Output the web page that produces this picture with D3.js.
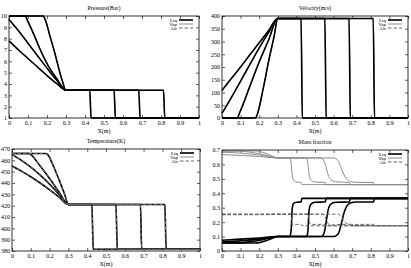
<!DOCTYPE html>
<meta charset="utf-8">
<style>
body{margin:0;background:#fff;}
text{font-family:"Liberation Serif","DejaVu Serif",serif;font-size:6px;fill:#000;}
.frame{fill:none;stroke:#000;stroke-width:0.8px;}
.tick line{stroke:#000;stroke-width:0.6px;}
.liq{fill:none;stroke:#000;stroke-width:1.6px;}
.vap{fill:none;stroke:#8c8c8c;stroke-width:1px;}
.air{fill:none;stroke:#666;stroke-width:1px;stroke-dasharray:3.5,2;}
</style>
<body>
<script src="https://cdnjs.cloudflare.com/ajax/libs/d3/7.8.5/d3.min.js"></script>
<script>
// four snapshots in time, [x, value]; phases share p, u, T
var pressure = [
  [[0,10],[0.18,10],[0.19,9.7],[0.216,8.2],[0.24,6.8],[0.26,5.5],[0.28,4.3],[0.3,3.45],[0.425,3.45],[0.432,1],[1,1]],
  [[0,10],[0.085,10],[0.1,9.5],[0.13,8.4],[0.16,7.2],[0.2,5.8],[0.25,4.5],[0.3,3.45],[0.553,3.45],[0.56,1],[1,1]],
  [[0,9.7],[0.05,8.7],[0.1,7.6],[0.15,6.5],[0.2,5.4],[0.25,4.35],[0.3,3.45],[0.683,3.45],[0.69,1],[1,1]],
  [[0,7.8],[0.05,7.0],[0.1,6.25],[0.15,5.5],[0.2,4.75],[0.25,4.05],[0.3,3.45],[0.813,3.45],[0.82,1],[1,1]]
];
var velocity = [
  [[0,0],[0.18,0],[0.19,15],[0.22,110],[0.25,220],[0.28,320],[0.3,390],[0.425,390],[0.432,0],[1,0]],
  [[0,0],[0.08,0],[0.1,30],[0.15,125],[0.2,220],[0.25,305],[0.3,390],[0.553,390],[0.56,0],[1,0]],
  [[0,18],[0.05,80],[0.1,145],[0.15,210],[0.2,275],[0.25,335],[0.3,390],[0.683,390],[0.69,0],[1,0]],
  [[0,108],[0.05,155],[0.1,200],[0.15,248],[0.2,295],[0.25,342],[0.3,390],[0.813,390],[0.82,0],[1,0]]
];
var temperature = [
  [[0,466],[0.18,466],[0.19,465],[0.22,455],[0.25,443],[0.28,430],[0.3,421],[0.425,421],[0.432,381.5],[1,381.5]],
  [[0,466],[0.09,466],[0.1,465],[0.15,455],[0.2,444],[0.25,432],[0.3,421],[0.553,421],[0.56,381.5],[1,381.5]],
  [[0,465],[0.05,460],[0.1,454],[0.15,447],[0.2,439],[0.25,430],[0.3,421],[0.683,421],[0.69,381.5],[1,381.5]],
  [[0,455],[0.05,450.5],[0.1,445.5],[0.15,440],[0.2,434],[0.25,427.5],[0.3,421],[0.813,421],[0.82,381.5],[1,381.5]]
];
var liqFraction = [
  [[0,0.055],[0.18,0.055],[0.2,0.058],[0.25,0.078],[0.3,0.1],[0.365,0.1],[0.372,0.15],[0.378,0.3],[0.385,0.33],[0.4,0.338],[0.425,0.34],[0.43,0.365],[1,0.365]],
  [[0,0.055],[0.09,0.055],[0.15,0.065],[0.2,0.075],[0.25,0.088],[0.3,0.1],[0.455,0.1],[0.462,0.14],[0.468,0.28],[0.478,0.325],[0.5,0.338],[0.555,0.34],[0.56,0.365],[1,0.365]],
  [[0,0.062],[0.1,0.07],[0.2,0.082],[0.3,0.1],[0.535,0.1],[0.55,0.13],[0.56,0.2],[0.57,0.28],[0.585,0.325],[0.61,0.338],[0.685,0.34],[0.69,0.365],[1,0.365]],
  [[0,0.075],[0.1,0.082],[0.2,0.09],[0.3,0.1],[0.6,0.1],[0.625,0.12],[0.64,0.18],[0.655,0.26],[0.67,0.31],[0.69,0.333],[0.72,0.34],[0.815,0.34],[0.82,0.365],[1,0.365]]
];
var vapFraction = [
  [[0,0.693],[0.18,0.693],[0.2,0.69],[0.25,0.67],[0.3,0.645],[0.365,0.645],[0.372,0.6],[0.378,0.52],[0.385,0.49],[0.4,0.478],[0.425,0.475],[0.43,0.46],[1,0.46]],
  [[0,0.693],[0.09,0.693],[0.15,0.685],[0.2,0.675],[0.25,0.66],[0.3,0.645],[0.455,0.645],[0.462,0.6],[0.47,0.52],[0.48,0.49],[0.5,0.478],[0.555,0.475],[0.56,0.46],[1,0.46]],
  [[0,0.685],[0.1,0.678],[0.2,0.665],[0.3,0.645],[0.535,0.645],[0.55,0.62],[0.56,0.58],[0.57,0.53],[0.585,0.495],[0.61,0.48],[0.685,0.475],[0.69,0.46],[1,0.46]],
  [[0,0.668],[0.1,0.662],[0.2,0.655],[0.3,0.645],[0.6,0.645],[0.625,0.625],[0.64,0.58],[0.655,0.53],[0.67,0.5],[0.69,0.482],[0.72,0.476],[0.815,0.475],[0.82,0.46],[1,0.46]]
];
var airFraction = [
  [[0,0.252],[0.2,0.252],[0.25,0.252],[0.3,0.255],[0.365,0.255],[0.372,0.25],[0.378,0.18],[0.385,0.18],[0.4,0.184],[0.425,0.185],[0.43,0.175],[1,0.175]],
  [[0,0.252],[0.3,0.255],[0.455,0.255],[0.462,0.26],[0.47,0.2],[0.48,0.185],[0.5,0.184],[0.555,0.185],[0.56,0.175],[1,0.175]],
  [[0,0.253],[0.1,0.252],[0.2,0.253],[0.3,0.255],[0.535,0.255],[0.55,0.25],[0.56,0.22],[0.57,0.19],[0.585,0.18],[0.61,0.182],[0.685,0.185],[0.69,0.175],[1,0.175]],
  [[0,0.257],[0.1,0.256],[0.2,0.255],[0.3,0.255],[0.625,0.255],[0.64,0.24],[0.655,0.21],[0.67,0.19],[0.69,0.185],[0.72,0.184],[0.815,0.185],[0.82,0.175],[1,0.175]]
];
var xTicks = d3.range(0, 11).map(function(i){ return i/10; });
var phases = ["Liq", "Vap", "Air"];

var panels = [
  {title:"Pressure(Bar)", box:[9,199,16,118], dom:[1,10], ticks:d3.range(1,11),
   liq:pressure, vap:pressure, air:pressure, airTop:false},
  {title:"Velocity(m/s)", box:[222,408,16,118], dom:[0,400], ticks:d3.range(0,401,50),
   liq:velocity, vap:velocity, air:velocity, airTop:false},
  {title:"Temperature(K)", box:[12,200,149,251], dom:[380,470], ticks:d3.range(380,471,10),
   liq:temperature, vap:temperature, air:temperature, airTop:true},
  {title:"Mass fraction", box:[222,408,150,251], dom:[0,0.7], ticks:xTicks.slice(0,8),
   liq:liqFraction, vap:vapFraction, air:airFraction, airTop:true}
];

var fmt = function(d){ return (d === 0 || d === 1) ? String(d) : (d < 1 ? d3.format(".1f")(d) : String(d)); };

var svg = d3.select("body").append("svg").attr("width", 411).attr("height", 268);

panels.forEach(function(p){
  var x0 = p.box[0], x1 = p.box[1], y0 = p.box[2], y1 = p.box[3];
  var x = d3.scaleLinear().domain([0,1]).range([x0,x1]);
  var y = d3.scaleLinear().domain(p.dom).range([y1,y0]);
  var line = d3.line().curve(d3.curveMonotoneX)
    .x(function(d){ return x(d[0]); }).y(function(d){ return y(d[1]); });
  var g = svg.append("g");

  // ticks on all four sides, pointing in
  g.append("g").attr("transform","translate(0,"+y1+")")
    .call(d3.axisBottom(x).tickValues(xTicks).tickSize(-3).tickPadding(3).tickFormat(fmt))
    .call(function(a){ a.select(".domain").remove(); });
  g.append("g").attr("transform","translate(0,"+y0+")")
    .call(d3.axisTop(x).tickValues(xTicks).tickSize(-3).tickFormat(""))
    .call(function(a){ a.select(".domain").remove(); });
  g.append("g").attr("transform","translate("+x0+",0)")
    .call(d3.axisLeft(y).tickValues(p.ticks).tickSize(-3).tickPadding(2).tickFormat(fmt))
    .call(function(a){ a.select(".domain").remove(); });
  g.append("g").attr("transform","translate("+x1+",0)")
    .call(d3.axisRight(y).tickValues(p.ticks).tickSize(-3).tickFormat(""))
    .call(function(a){ a.select(".domain").remove(); });
  g.selectAll("g").attr("font-family",null).attr("font-size",null);

  var series = p.airTop ? [["vap",p.vap],["liq",p.liq],["air",p.air]] : [["air",p.air],["vap",p.vap],["liq",p.liq]];
  if (p.title === "Mass fraction") series = [["liq",p.liq],["vap",p.vap],["air",p.air]];
  series.forEach(function(s){
    g.selectAll("path."+s[0]+".c").data(s[1]).enter().append("path")
      .attr("class", s[0]+" c").attr("d", line);
  });

  g.append("rect").attr("class","frame")
    .attr("x",x0).attr("y",y0).attr("width",x1-x0).attr("height",y1-y0);

  g.append("text").attr("x",(x0+x1)/2).attr("y",y0-6).attr("text-anchor","middle").text(p.title);
  g.append("text").attr("x",(x0+x1)/2).attr("y",y1+15).attr("text-anchor","middle").text("X(m)");

  // legend
  phases.forEach(function(name,i){
    var ly = y0 + 4 + i*4;
    g.append("text").attr("x",x1-22).attr("y",ly+2).attr("text-anchor","end")
      .style("font-size","5px").text(name);
    g.append("line").attr("class",name.toLowerCase())
      .attr("x1",x1-20).attr("x2",x1-6).attr("y1",ly).attr("y2",ly);
  });
});
</script>
</body>
